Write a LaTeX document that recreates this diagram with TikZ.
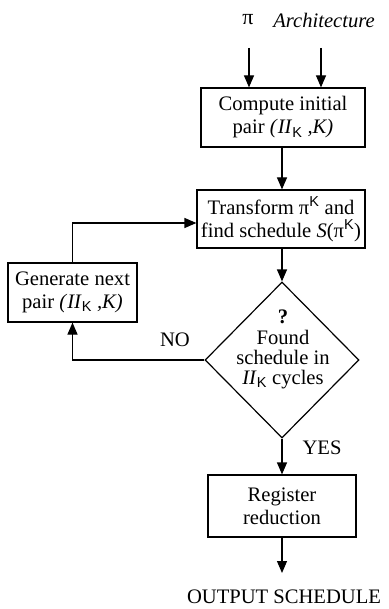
\documentclass[tikz,border=0pt]{standalone}
\usepackage{fontspec}
\setmainfont{Liberation Serif}
\setsansfont{Liberation Sans}
\usetikzlibrary{shapes.geometric,arrows.meta}

% iteration interval with its K index, and the unrolled graph pi^K
\newcommand{\IIK}{\textit{II}\textsubscript{\sffamily K}}
\newcommand{\piK}{π\textsuperscript{\sffamily K}}

\begin{document}
\begin{tikzpicture}[x=1pt,y=-1pt,
  font=\fontsize{20.6}{23}\selectfont,
  flowbox/.style={draw, line width=1.2pt, inner sep=0pt, align=center},
  flow/.style={line width=1.2pt, -{Triangle[length=12pt,width=10pt]}},
  ]
\useasboundingbox (0,0) rectangle (388,609);

% inputs
\node[font=\fontsize{22}{23}\selectfont] (pi) at (248,20) {π};
\node (arch) at (324,20) {\textit{Architecture}};
\coordinate (piin) at (249,48);
\coordinate (archin) at (321,48);

% process boxes
\node[flowbox, minimum width=164pt, minimum height=59pt] (init) at (283,117.5)
  {Compute initial\\pair \textit{(}\IIK\textit{ ,K)}};
\node[flowbox, minimum width=168pt, minimum height=58pt] (trans) at (281,219)
  {Transform \piK\ and\\find schedule \textit{S}(\piK)};
\node[flowbox, minimum width=129pt, minimum height=59pt] (gen) at (72.5,292.5)
  {Generate next\\pair \textit{(}\IIK\textit{ ,K)}};
\node[draw, diamond, line width=1.2pt, inner sep=0pt,
      minimum width=154pt, minimum height=156pt] (test) at (282,360) {};
\node[align=center, font=\fontsize{20.6}{20}\selectfont] (testtxt) at (283,349)
  {\textbf{?}\\[1pt]Found\\schedule in\\\IIK\ cycles};
\node[flowbox, minimum width=148pt, minimum height=62pt] (reg) at (282,506)
  {Register\\reduction};
\node (out) at (284,597) {OUTPUT SCHEDULE};

% branch labels
\node (no) at (175,340) {NO};
\node (yes) at (322,448) {YES};

% connectors
\draw[flow] (piin) -- (piin |- init.north);
\draw[flow] (archin) -- (archin |- init.north);
\draw[flow] (init.south -| test.north) -- (test.north |- trans.north);
\draw[flow] (test.north |- trans.south) -- (test.north);
\draw[flow] (test.west) -| (gen.south);
\draw[flow] (gen.north) |- ([yshift=-4pt]trans.west);
\draw[flow] (test.south) -- (test.south |- reg.north);
\coordinate (outin) at (282,573);
\draw[flow] (reg.south) -- (outin);
\end{tikzpicture}
\end{document}
